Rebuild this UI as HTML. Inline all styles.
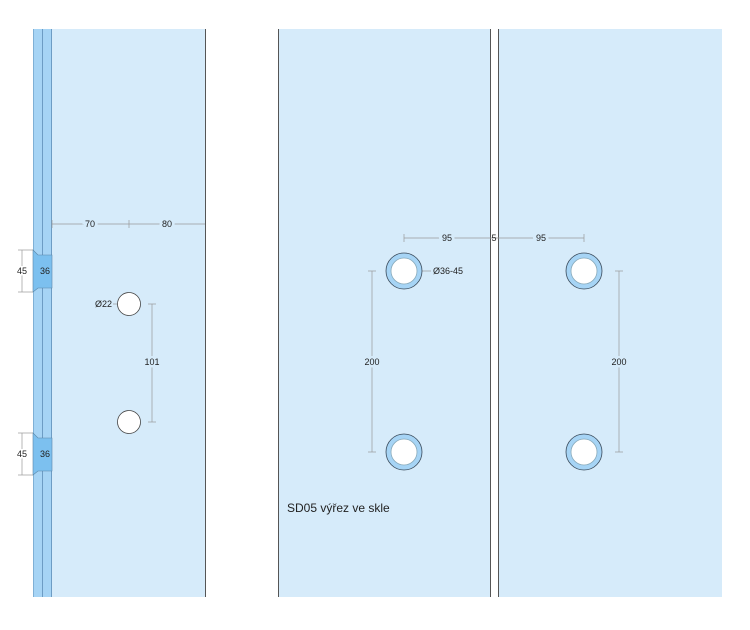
<!DOCTYPE html>
<html><head><style>body{margin:0;background:#fff}</style></head><body>
<svg width="750" height="625" xmlns="http://www.w3.org/2000/svg" font-family="Liberation Sans, sans-serif" font-size="9">
<rect width="750" height="625" fill="#fff"/>
<!-- left -->
<rect x="33" y="29" width="19" height="568" fill="#a6d4f5"/>
<rect x="52" y="29" width="153" height="568" fill="#d6ebfa"/>
<line x1="33.5" y1="29" x2="33.5" y2="597" stroke="#7fb0d6"/>
<line x1="42.5" y1="29" x2="42.5" y2="597" stroke="#6d9cc4"/>
<line x1="51.5" y1="29" x2="51.5" y2="597" stroke="#6d9cc4"/>
<line x1="205.5" y1="29" x2="205.5" y2="597" stroke="#555"/>
<polygon points="33,250 38,255 52,255 52,288 38,288 33,292" fill="#7cc0ef" stroke="#5a86a8" stroke-width="0.6"/>
<polygon points="33,433 38,438 52,438 52,471 38,471 33,475" fill="#7cc0ef" stroke="#5a86a8" stroke-width="0.6"/>
<g stroke="#999" stroke-width="0.7">
<line x1="22" y1="250" x2="22" y2="292"/><line x1="18" y1="250" x2="33" y2="250"/><line x1="18" y1="292" x2="33" y2="292"/>
<line x1="22" y1="433" x2="22" y2="475"/><line x1="18" y1="433" x2="33" y2="433"/><line x1="18" y1="475" x2="33" y2="475"/>
<line x1="52" y1="224" x2="205" y2="224"/><line x1="52" y1="220" x2="52" y2="228"/><line x1="129" y1="220" x2="129" y2="228"/>
<line x1="152" y1="304" x2="152" y2="422"/><line x1="148" y1="304" x2="156" y2="304"/><line x1="148" y1="422" x2="156" y2="422"/>
<line x1="113" y1="304" x2="118" y2="304"/>
</g>
<g fill="#222">
<rect x="14" y="264" width="15" height="11" fill="#d6ebfa" opacity="0"/>
<text x="22" y="274" text-anchor="middle" style="paint-order:stroke" stroke="#fff" stroke-width="3">45</text>
<text x="22" y="457" text-anchor="middle" style="paint-order:stroke" stroke="#fff" stroke-width="3">45</text>
<text x="45" y="274" text-anchor="middle">36</text>
<text x="45" y="457" text-anchor="middle">36</text>
<text x="90" y="227" text-anchor="middle" style="paint-order:stroke" stroke="#d6ebfa" stroke-width="6">70</text>
<text x="167" y="227" text-anchor="middle" style="paint-order:stroke" stroke="#d6ebfa" stroke-width="6">80</text>
<text x="112" y="307" text-anchor="end">Ø22</text>
<text x="152" y="365" text-anchor="middle" style="paint-order:stroke" stroke="#d6ebfa" stroke-width="5">101</text>
</g>
<circle cx="129" cy="304" r="11.5" fill="#fff" stroke="#444" stroke-width="0.8"/>
<circle cx="129" cy="422" r="11.5" fill="#fff" stroke="#444" stroke-width="0.8"/>
<!-- right panels -->
<rect x="278" y="29" width="212" height="568" fill="#d6ebfa"/>
<rect x="498" y="29" width="224" height="568" fill="#d6ebfa"/>
<line x1="278.5" y1="29" x2="278.5" y2="597" stroke="#555"/>
<line x1="490.5" y1="29" x2="490.5" y2="597" stroke="#555"/>
<line x1="498.5" y1="29" x2="498.5" y2="597" stroke="#555"/>
<g stroke="#999" stroke-width="0.7">
<line x1="404" y1="238" x2="584" y2="238"/><line x1="404" y1="234" x2="404" y2="242"/><line x1="584" y1="234" x2="584" y2="242"/>
<line x1="372" y1="271" x2="372" y2="452"/><line x1="368" y1="271" x2="376" y2="271"/><line x1="368" y1="452" x2="376" y2="452"/>
<line x1="619" y1="271" x2="619" y2="452"/><line x1="615" y1="271" x2="623" y2="271"/><line x1="615" y1="452" x2="623" y2="452"/>
<line x1="422" y1="271" x2="431" y2="271"/>
</g>
<g fill="#222">
<text x="447" y="241" text-anchor="middle" style="paint-order:stroke" stroke="#d6ebfa" stroke-width="6">95</text>
<text x="494" y="241" text-anchor="middle">5</text>
<text x="541" y="241" text-anchor="middle" style="paint-order:stroke" stroke="#d6ebfa" stroke-width="6">95</text>
<text x="372" y="365" text-anchor="middle" style="paint-order:stroke" stroke="#d6ebfa" stroke-width="5">200</text>
<text x="619" y="365" text-anchor="middle" style="paint-order:stroke" stroke="#d6ebfa" stroke-width="5">200</text>
<text x="433" y="274">Ø36-45</text>
<text x="287" y="512" font-size="12">SD05 výřez ve skle</text>
</g>
<g stroke="#3a4a5a" stroke-width="0.8">
<circle cx="404" cy="271" r="18" fill="#a6d4f5"/><circle cx="404" cy="271" r="13" fill="#fff" stroke="#8ab"/>
<circle cx="404" cy="452" r="18" fill="#a6d4f5"/><circle cx="404" cy="452" r="13" fill="#fff" stroke="#8ab"/>
<circle cx="584" cy="271" r="18" fill="#a6d4f5"/><circle cx="584" cy="271" r="13" fill="#fff" stroke="#8ab"/>
<circle cx="584" cy="452" r="18" fill="#a6d4f5"/><circle cx="584" cy="452" r="13" fill="#fff" stroke="#8ab"/>
</g>
</svg>
</body></html>
